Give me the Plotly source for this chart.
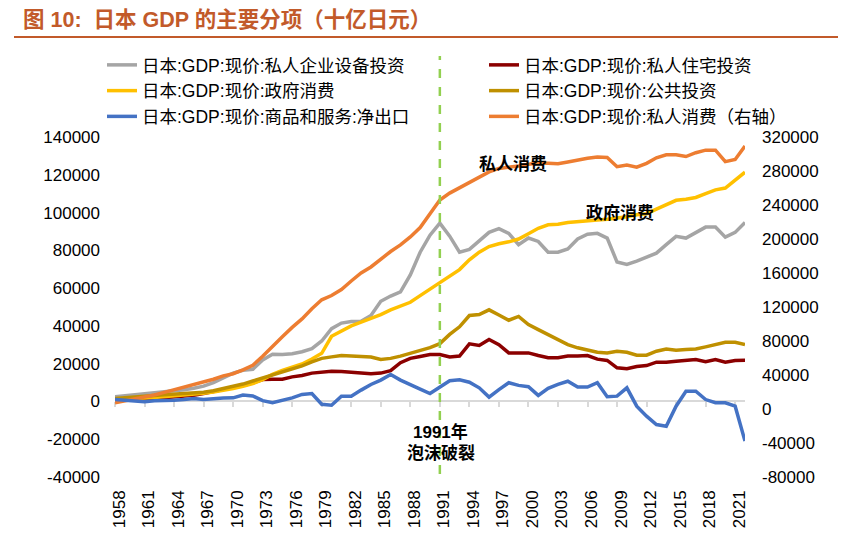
import plotly.graph_objects as go

# ---------------- data (十亿日元) ----------------
years = list(range(1958, 2023))

equip = [2500, 3000, 3600, 4200, 4600, 5300, 5900, 6200, 7000, 8100, 10000, 12500,
         15000, 16500, 17000, 22000, 25000, 24800, 25300, 26300, 28000, 32000,
         38500, 41500, 42300, 42400, 45500, 53000, 55800, 58000, 67000, 79000,
         88000, 94400, 87500, 79000, 80500, 85000, 89500, 91500, 89000, 83000,
         86500, 84700, 79000, 79000, 80700, 86000, 88500, 89000, 86500, 73800,
         72500, 74300, 76500, 78500, 83000, 87400, 86500, 89500, 92300, 92300,
         87000, 89500, 94700]

housing = [600, 700, 900, 1200, 1500, 1900, 2400, 2900, 3300, 4200, 5200, 6400,
           7600, 8400, 9800, 11600, 11700, 11800, 13000, 13700, 15000, 15600,
           16000, 15800, 15500, 15000, 14700, 15000, 16300, 20500, 22800, 23800,
           24800, 24800, 23600, 24000, 30500, 29600, 32800, 30100, 25700, 25700,
           25700, 24300, 23100, 23100, 24000, 24000, 24300, 22400, 21700, 17800,
           17300, 18500, 19000, 20800, 20800, 21300, 21800, 22200, 21000, 22200,
           20800, 21700, 21800]

gov = [1200, 1300, 1500, 1800, 2100, 2500, 2900, 3300, 3800, 4300, 5000, 5800,
       6800, 8000, 9500, 11500, 14300, 16500, 18000, 19800, 22500, 25500,
       34500, 37500, 40000, 42000, 44000, 46000, 48500, 50300, 52500, 56000,
       59500, 62700, 66500, 69800, 75000, 79000, 82000, 83500, 84500, 86000,
       88800, 91700, 93500, 93800, 94700, 95000, 95600, 96000, 96500, 97000,
       97800, 98800, 99400, 101800, 104000, 106500, 107000, 108000, 110000, 112000,
       113000, 117400, 121400]

public = [1500, 1800, 2200, 2700, 3100, 3500, 3800, 4200, 4600, 4900, 5700, 6800,
          7700, 9200, 10800, 12400, 13800, 15200, 17000, 18800, 21000, 22800,
          23600, 24300, 24000, 23700, 23500, 22200, 22800, 24000, 25500, 27000,
          28500, 30600, 35500, 39500, 45500, 46000, 48500, 45800, 43000, 45000,
          40700, 38000, 35400, 32800, 30100, 28400, 27100, 26000, 25700, 26600,
          26000, 24500, 24500, 26600, 27800, 27100, 27500, 27800, 28900, 30100,
          31300, 31300, 30100]

netexp = [1000, 700, 300, -200, 400, 300, 600, 1000, 1600, 1000, 1600, 1800,
          1900, 3400, 2900, 400, -700, 500, 1900, 3700, 4200, -1500,
          -2000, 2800, 2800, 6000, 9000, 11300, 14300, 11300, 8700, 6500,
          4200, 7500, 11000, 11500, 10200, 7200, 2300, 6300, 9900, 8500,
          7800, 3200, 6900, 9000, 10700, 7600, 7600, 9900, 2500, 2800,
          7200, -2500, -7800, -12200, -13100, -2500, 5400, 5400, 1000, -700,
          -700, -2500, -21000]

consumption = [7400, 9500, 11800, 14000, 16500, 19500, 22500, 25000, 28000, 31000, 35000, 39000,
               41500, 46000, 51500, 62000, 74000, 85000, 96000, 106000, 118000, 128500,
               133500, 140600, 150600, 160000, 167100, 176500, 185300, 193000, 202400, 213500,
               230200, 245900, 254000, 260000, 267000, 272500, 279000, 283000, 284000, 286000,
               288000, 289500, 289000, 288500, 290500, 293000, 295000, 296500, 296000, 285000,
               287000, 284500, 289000, 295500, 299000, 299000, 297000, 301500, 304500, 304500,
               291000, 293500, 309500]

x_tick_years = list(range(1958, 2022, 3))
left_ticks = [-40000, -20000, 0, 20000, 40000, 60000, 80000, 100000, 120000, 140000]
right_ticks = [-80000, -40000, 0, 40000, 80000, 120000, 160000, 200000, 240000, 280000, 320000]

# ---------------- layout geometry ----------------
# the page body keeps its default 8px margin, so the figure is drawn 8px in
OFF = 8
VW, VH = 846, 537
W, H = VW - OFF, VH - OFF
L, R, T, B = 115 - OFF, VW - 745, 137 - OFF, VH - 477
PW, PH = W - L - R, H - T - B


def px(xp):
    return (xp - OFF - L) / PW


def py(yp):
    return (H - B - (yp - OFF)) / PH


FONT = "Liberation Sans, Arial, Noto Sans CJK SC"
TITLE_C = "#C25A2A"

fig = go.Figure()

series = [
    ("日本:GDP:现价:私人企业设备投资", equip, "#A5A5A5", "legend", "x", "y"),
    ("日本:GDP:现价:私人住宅投资", housing, "#8B0000", "legend2", "x", "y"),
    ("日本:GDP:现价:政府消费", gov, "#FFC000", "legend", "x", "y"),
    ("日本:GDP:现价:公共投资", public, "#BF9000", "legend2", "x", "y"),
    ("日本:GDP:现价:商品和服务:净出口", netexp, "#4472C4", "legend", "x2", "y"),
    ("日本:GDP:现价:私人消费（右轴）", consumption, "#ED7D31", "legend2", "x", "y2"),
]
for name, vals, color, lg, xa, ya in series:
    fig.add_trace(go.Scatter(
        x=years, y=vals, name=name, mode="lines",
        line=dict(color=color, width=3.5),
        legend=lg, xaxis=xa, yaxis=ya, hoverinfo="skip"))

fig.update_layout(
    width=W, height=H, autosize=False,
    margin=dict(l=L, r=R, t=T, b=B, autoexpand=False),
    plot_bgcolor="white", paper_bgcolor="white",
    font=dict(family=FONT, color="#000000", size=17),
    xaxis=dict(
        range=[1958, 2022], tickvals=x_tick_years, ticktext=[str(v) for v in x_tick_years],
        tickangle=-90, ticks="", showline=False, showgrid=False, zeroline=False,
        tickfont=dict(size=17, color="#000000"), ticklabelstandoff=9, ticklabelshift=4,
    ),
    xaxis2=dict(
        range=[1958, 2022], overlaying="x", anchor="free", position=40000 / 180000,
        tickvals=x_tick_years, showticklabels=False, ticks="outside", ticklen=5,
        tickwidth=1.5, tickcolor="#D9D9D9", showline=True, linecolor="#D9D9D9",
        linewidth=1.5, showgrid=False, zeroline=False, layer="below traces",
    ),
    yaxis=dict(
        range=[-40000, 140000], tickvals=left_ticks, ticktext=[str(v) for v in left_ticks],
        showgrid=False, zeroline=False, showline=False, ticks="",
        tickfont=dict(size=17, color="#000000"), ticklabelstandoff=14,
    ),
    yaxis2=dict(
        range=[-80000, 320000], tickvals=right_ticks, ticktext=[str(v) for v in right_ticks],
        overlaying="y", side="right", anchor="x",
        showgrid=False, zeroline=False, showline=False, ticks="",
        tickfont=dict(size=17, color="#000000"), ticklabelstandoff=16,
    ),
    legend=dict(
        x=px(102), y=py(47), xanchor="left", yanchor="top", orientation="v",
        font=dict(size=17.5, family=FONT, color="#000000"), bgcolor="rgba(0,0,0,0)",
        tracegroupgap=0, itemclick=False,
    ),
    legend2=dict(
        x=px(484), y=py(47), xanchor="left", yanchor="top", orientation="v",
        font=dict(size=17.5, family=FONT, color="#000000"), bgcolor="rgba(0,0,0,0)",
        tracegroupgap=0, itemclick=False,
    ),
    showlegend=True,
)

# title and underline
fig.add_annotation(
    text="<b>图 10:  日本 GDP 的主要分项（十亿日元）</b>", xref="paper", yref="paper",
    x=px(21), y=py(20), xanchor="left", yanchor="middle", showarrow=False,
    font=dict(size=21.5, color=TITLE_C, family=FONT))
fig.add_shape(type="line", xref="paper", yref="paper", x0=px(14), x1=px(838),
              y0=py(37), y1=py(37), line=dict(color=TITLE_C, width=2))

# 1991 bubble burst marker
fig.add_shape(type="line", xref="x", yref="paper", x0=1991, x1=1991,
              y0=py(474), y1=py(56), line=dict(color="#92D050", width=2.5, dash="dash"))

for txt, xp, yp in [("<b>私人消费</b>", 513, 164), ("<b>政府消费</b>", 620, 213),
                    ("<b>1991年</b>", 440, 432), ("<b>泡沫破裂</b>", 441, 453)]:
    fig.add_annotation(text=txt, xref="paper", yref="paper", x=px(xp), y=py(yp),
                       xanchor="center", yanchor="middle", showarrow=False,
                       font=dict(size=17, color="#000000", family=FONT))

fig.write_html("out.html")
